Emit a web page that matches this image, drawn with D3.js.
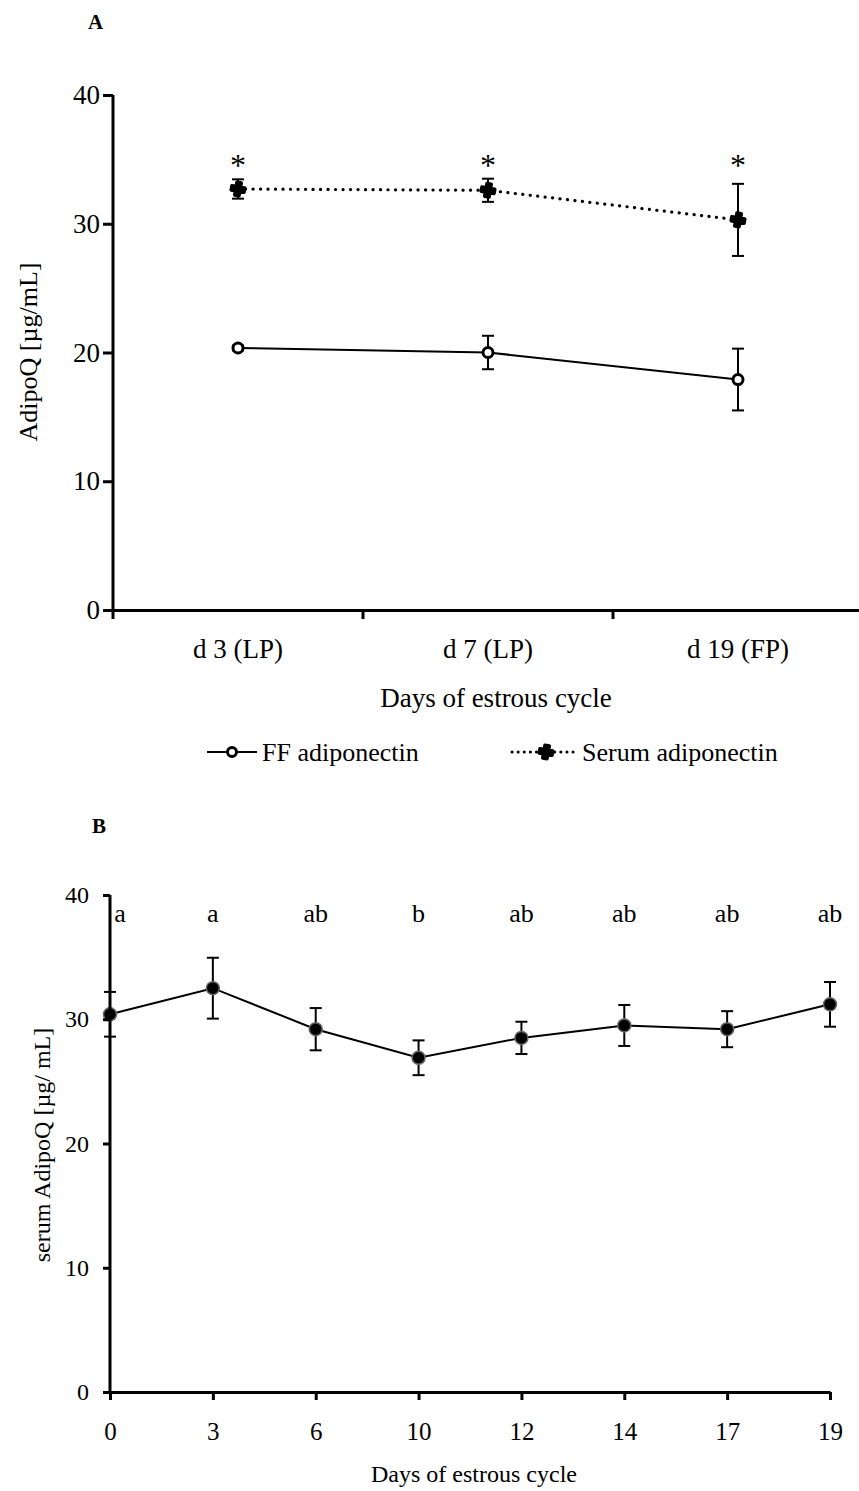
<!DOCTYPE html>
<html>
<head>
  <meta charset="utf-8">
  <title>AdipoQ</title>
  <script src="https://d3js.org/d3.v7.min.js"></script>
<style>
    body { margin: 0; background: #fff; }
    text { font-family: "Liberation Serif", "Times New Roman", serif; fill: #000; }
    .axis path, .axis line { stroke: #000; stroke-width: 3; }
</style>
</head>
<body>
<div id="chart"></div>
<script>
// panel A data
var phases = ["d 3 (LP)", "d 7 (LP)", "d 19 (FP)"];
var ffMean = [20.35, 20.0, 17.9];
var ffErr = [0.2, 1.3, 2.4];
var serumMean = [32.7, 32.6, 30.3];
var serumErr = [0.75, 0.9, 2.8];
var starLabels = ["*", "*", "*"];

// panel B data
var days = ["0", "3", "6", "10", "12", "14", "17", "19"];
var dayMean = [30.4, 32.5, 29.2, 26.9, 28.5, 29.5, 29.2, 31.2];
var dayErr = [1.8, 2.45, 1.7, 1.4, 1.3, 1.65, 1.45, 1.8];
var dayLetters = ["a", "a", "ab", "b", "ab", "ab", "ab", "ab"];
var yTicks = [0, 10, 20, 30, 40];

var svg = d3.select("#chart").append("svg")
    .attr("width", 859)
    .attr("height", 1491);

// error bars with caps
function drawErr(g, xs, ys, means, errs, cap) {
  means.forEach(function(m, i) {
    var x = xs(i), y1 = ys(m + errs[i]), y2 = ys(m - errs[i]);
    g.append("line").attr("x1", x).attr("x2", x).attr("y1", y1).attr("y2", y2)
      .attr("stroke", "#000").attr("stroke-width", 2);
    [y1, y2].forEach(function(yy) {
      g.append("line").attr("x1", x - cap).attr("x2", x + cap).attr("y1", yy).attr("y2", yy)
        .attr("stroke", "#000").attr("stroke-width", 2);
    });
  });
}

// ---------------- Panel A ----------------
var xA = d3.scaleBand().domain(phases).range([113, 863]);
var yA = d3.scaleLinear().domain([0, 40]).range([610, 95]);

svg.append("text").attr("x", 88).attr("y", 29)
  .style("font-size", "21px").style("font-weight", "bold").text("A");

var gA = svg.append("g");

gA.append("g").attr("class", "axis")
  .attr("transform", "translate(113,0)")
  .call(d3.axisLeft(yA).tickValues(yTicks).tickSize(10).tickPadding(3).tickSizeOuter(0))
  .call(function(g) { g.select(".domain").attr("d", "M0," + yA(40) + "V" + yA(0)); })
  .selectAll("text").style("font-size", "27px");

gA.append("g").attr("class", "axis")
  .attr("transform", "translate(0,610)")
  .call(d3.axisBottom(xA).tickSize(0).tickPadding(29))
  .selectAll("text").style("font-size", "27px");

// ticks between the bands
gA.selectAll(".btick")
  .data(phases)
  .enter().append("line")
  .attr("x1", function(d) { return xA(d); })
  .attr("x2", function(d) { return xA(d); })
  .attr("y1", 610).attr("y2", 619)
  .attr("stroke", "#000").attr("stroke-width", 3);

var cx = function(i) { return xA(phases[i]) + xA.bandwidth() / 2; };

var lineA = d3.line().x(function(d, i) { return cx(i); }).y(function(d) { return yA(d); });
gA.append("path").datum(ffMean).attr("d", lineA)
  .attr("fill", "none").attr("stroke", "#000").attr("stroke-width", 2);
gA.append("path").datum(serumMean).attr("d", lineA)
  .attr("fill", "none").attr("stroke", "#000").attr("stroke-width", 3.2)
  .attr("stroke-dasharray", "0.1 7.4").attr("stroke-linecap", "round");

drawErr(gA, cx, yA, ffMean, ffErr, 6);
drawErr(gA, cx, yA, serumMean, serumErr, 6);

var serumSym = d3.symbol().type(d3.symbolCross).size(95);
gA.selectAll(".ser").data(serumMean).enter().append("path")
  .attr("d", serumSym)
  .attr("transform", function(d, i) { return "translate(" + cx(i) + "," + yA(d) + ") rotate(10)"; })
  .attr("fill", "#000").attr("stroke", "#000").attr("stroke-width", 3.5).attr("stroke-linejoin", "round");
gA.selectAll(".ff").data(ffMean).enter().append("circle")
  .attr("cx", function(d, i) { return cx(i); }).attr("cy", function(d) { return yA(d); })
  .attr("r", 5).attr("fill", "#fff").attr("stroke", "#000").attr("stroke-width", 3);

gA.selectAll(".star").data(starLabels).enter().append("text")
  .attr("x", function(d, i) { return cx(i); }).attr("y", 176)
  .attr("text-anchor", "middle").style("font-size", "32px").text(function(d) { return d; });

svg.append("text").attr("transform", "translate(37,352) rotate(-90)")
  .attr("text-anchor", "middle").style("font-size", "26px").text("AdipoQ [µg/mL]");
svg.append("text").attr("x", 496).attr("y", 707)
  .attr("text-anchor", "middle").style("font-size", "27px").text("Days of estrous cycle");

// legend
var lg = svg.append("g");
lg.append("line").attr("x1", 207).attr("x2", 257).attr("y1", 752).attr("y2", 752)
  .attr("stroke", "#000").attr("stroke-width", 2);
lg.append("circle").attr("cx", 232).attr("cy", 752).attr("r", 4.5)
  .attr("fill", "#fff").attr("stroke", "#000").attr("stroke-width", 3);
lg.append("text").attr("x", 262).attr("y", 761).style("font-size", "26px").text("FF adiponectin");
lg.append("line").attr("x1", 512).attr("x2", 576).attr("y1", 752).attr("y2", 752)
  .attr("stroke", "#000").attr("stroke-width", 3).attr("stroke-dasharray", "0.1 6")
  .attr("stroke-linecap", "round");
lg.append("path").attr("d", serumSym)
  .attr("transform", "translate(546,752) rotate(10)")
  .attr("fill", "#000").attr("stroke", "#000").attr("stroke-width", 3.5).attr("stroke-linejoin", "round");
lg.append("text").attr("x", 582).attr("y", 761).style("font-size", "26px").text("Serum adiponectin");

// ---------------- Panel B ----------------
var xB = d3.scalePoint().domain(days).range([110, 830]);
var yB = d3.scaleLinear().domain([0, 40]).range([1392, 895]);

svg.append("text").attr("x", 92).attr("y", 833)
  .style("font-size", "21px").style("font-weight", "bold").text("B");

var gB = svg.append("g");
var bx = function(i) { return xB(days[i]); };

var lineB = d3.line().x(function(d, i) { return bx(i); }).y(function(d) { return yB(d); });
gB.append("path").datum(dayMean).attr("d", lineB)
  .attr("fill", "none").attr("stroke", "#000").attr("stroke-width", 2);

drawErr(gB, bx, yB, dayMean, dayErr, 6);

gB.selectAll(".pt").data(dayMean).enter().append("circle")
  .attr("cx", function(d, i) { return bx(i); }).attr("cy", function(d) { return yB(d); })
  .attr("r", 6.5).attr("fill", "#000").attr("stroke", "#666").attr("stroke-width", 1.5);

gB.append("g").attr("class", "axis")
  .attr("transform", "translate(110,0)")
  .call(d3.axisLeft(yB).tickValues(yTicks).tickSize(7).tickPadding(14).tickSizeOuter(0))
  .call(function(g) { g.select(".domain").attr("d", "M0," + yB(40) + "V" + yB(0)); })
  .selectAll("text").style("font-size", "24px");

gB.append("g").attr("class", "axis")
  .attr("transform", "translate(0,1392)")
  .call(d3.axisBottom(xB).tickSize(8).tickPadding(22).tickSizeOuter(0))
  .selectAll("text").style("font-size", "25px");

gB.selectAll(".let").data(dayLetters).enter().append("text")
  .attr("x", function(d, i) { return bx(i) + (i === 0 ? 10 : 0); }).attr("y", 922)
  .attr("text-anchor", "middle").style("font-size", "26px").text(function(d) { return d; });

svg.append("text").attr("transform", "translate(50,1145) rotate(-90)")
  .attr("text-anchor", "middle").style("font-size", "24px").text("serum AdipoQ [µg/ mL]");
svg.append("text").attr("x", 474).attr("y", 1482)
  .attr("text-anchor", "middle").style("font-size", "24px").text("Days of estrous cycle");
</script>
</body>
</html>
